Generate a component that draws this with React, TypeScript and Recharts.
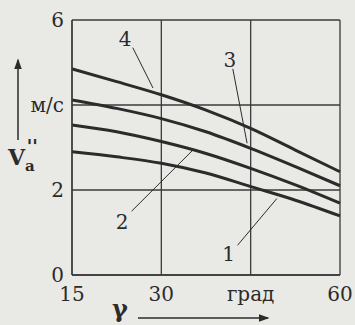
// V_a'' vs gamma — four curves (1..4) on a boxed grid, scanned-book style.

import {
  LineChart,
  Line,
  XAxis,
  YAxis,
  CartesianGrid,
  ReferenceLine,
  ReferenceDot,
} from 'recharts'

const gammaValues = [15, 22.5, 30, 37.5, 45, 52.5, 60]
const curve1 = [2.9, 2.78, 2.63, 2.4, 2.08, 1.76, 1.39]
const curve2 = [3.53, 3.37, 3.14, 2.86, 2.51, 2.12, 1.69]
const curve3 = [4.12, 3.92, 3.68, 3.37, 2.98, 2.55, 2.1]
const curve4 = [4.85, 4.55, 4.24, 3.88, 3.45, 2.94, 2.43]

const xTicks = [15, 30, 45, 60]
const yTicks = [0, 2, 4, 6]
const xTickLabels: Record<number, string> = { 15: '15', 30: '30', 45: 'град', 60: '60' }
const yTickLabels: Record<number, string> = { 0: '0', 2: '2', 4: 'м/с', 6: '6' }

// curve number labels and their leader lines (data coords)
const curveLabels = [
  { name: '4', x: 23.9, y: 5.55, from: { x: 25.2, y: 5.35 }, to: { x: 28.6, y: 4.4 } },
  { name: '3', x: 41.5, y: 5.05, from: { x: 42.0, y: 4.85 }, to: { x: 44.4, y: 3.1 } },
  { name: '2', x: 23.4, y: 1.25, from: { x: 25.0, y: 1.5 }, to: { x: 35.3, y: 2.94 } },
  { name: '1', x: 41.3, y: 0.5, from: { x: 42.8, y: 0.7 }, to: { x: 49.4, y: 1.8 } },
]

const data = gammaValues.map((g, i) => ({
  g,
  c1: curve1[i],
  c2: curve2[i],
  c3: curve3[i],
  c4: curve4[i],
}))

const ink = '#2b2b2b'
const font = "'DejaVu Serif', 'Liberation Serif', 'Times New Roman', serif"

export default function App() {
  return (
    <div
      style={{
        position: 'absolute',
        left: 0,
        top: 0,
        width: 355,
        height: 325,
        overflow: 'hidden',
        background: '#e9e9e6',
        fontFamily: font,
      }}
    >
      <LineChart
        width={355}
        height={325}
        data={data}
        margin={{ top: 20, right: 15, left: 12, bottom: 20 }}
        style={{ fontFamily: font }}
      >
        <CartesianGrid stroke="#3a3a3a" strokeWidth={1.3} />
        <XAxis
          dataKey="g"
          type="number"
          domain={[15, 60]}
          ticks={xTicks}
          tickFormatter={(v) => xTickLabels[v] ?? ''}
          tick={{ fontSize: 20, fill: ink, fontFamily: font }}
          tickLine={false}
          axisLine={{ stroke: '#3a3a3a', strokeWidth: 1.3 }}
          height={30}
          tickMargin={6}
        />
        <YAxis
          type="number"
          domain={[0, 6]}
          ticks={yTicks}
          tickFormatter={(v) => yTickLabels[v] ?? ''}
          tick={{ fontSize: 20, fill: ink, fontFamily: font }}
          tickLine={false}
          axisLine={{ stroke: '#3a3a3a', strokeWidth: 1.3 }}
          width={60}
          tickMargin={2}
        />
        {curveLabels.map((c) => (
          <ReferenceLine
            key={'l' + c.name}
            segment={[c.from, c.to]}
            stroke={ink}
            strokeWidth={1}
          />
        ))}
        {curveLabels.map((c) => (
          <ReferenceDot
            key={'d' + c.name}
            x={c.x}
            y={c.y}
            r={0}
            stroke="none"
            label={{ value: c.name, fontSize: 20, fill: ink, fontFamily: font }}
          />
        ))}
        <Line type="monotone" dataKey="c1" stroke={ink} strokeWidth={3} dot={false} isAnimationActive={false} />
        <Line type="monotone" dataKey="c2" stroke={ink} strokeWidth={3} dot={false} isAnimationActive={false} />
        <Line type="monotone" dataKey="c3" stroke={ink} strokeWidth={3} dot={false} isAnimationActive={false} />
        <Line type="monotone" dataKey="c4" stroke={ink} strokeWidth={3} dot={false} isAnimationActive={false} />
      </LineChart>
      {/* axis titles with arrows */}
      <svg
        width={355}
        height={325}
        style={{ position: 'absolute', left: 0, top: 0, pointerEvents: 'none' }}
      >
        <defs>
          <marker id="arr" markerWidth="8" markerHeight="8" refX="6" refY="4" orient="auto">
            <path d="M0,1.5 L7,4 L0,6.5 Z" fill={ink} />
          </marker>
        </defs>
        <line x1={18} y1={140} x2={18} y2={60} stroke={ink} strokeWidth={1.5} markerEnd="url(#arr)" />
        <text x={8} y={165} fontSize={22} fill={ink} fontWeight="bold" fontFamily={font}>
          V
          <tspan fontSize={15} dy={6}>a</tspan>
          <tspan fontSize={18} dy={-18} dx={-8}>''</tspan>
        </text>
        <line x1={138} y1={318} x2={268} y2={318} stroke={ink} strokeWidth={1.5} markerEnd="url(#arr)" />
        <text x={112} y={317} fontSize={24} fill={ink} fontWeight="bold" fontFamily={font}>
          γ
        </text>
      </svg>
    </div>
  )
}
